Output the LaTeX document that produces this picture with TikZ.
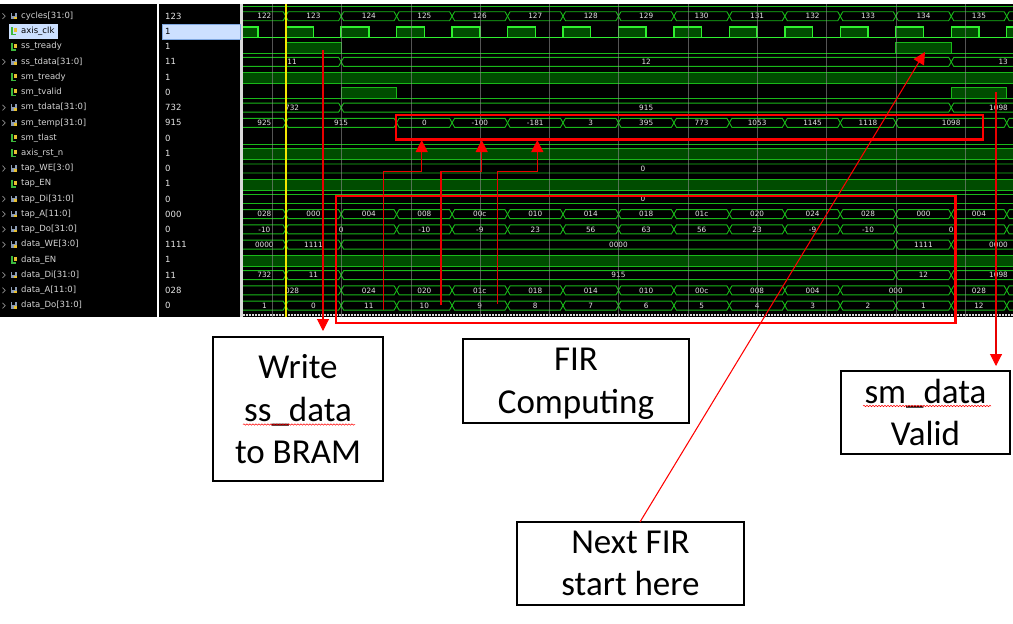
\documentclass[tikz,border=0pt]{standalone}
\usepackage{fontspec}
\setmainfont{Carlito}
\newfontfamily\wvsans{DejaVu Sans}
\usetikzlibrary{arrows.meta,decorations.pathmorphing}
\definecolor{wgreen}{HTML}{19B919}
\definecolor{wclk}{HTML}{2FEF2F}
\definecolor{wfill}{HTML}{004C00}
\definecolor{wgrid}{HTML}{8C8C8C}
\definecolor{wtxt}{HTML}{E6E6E6}
\definecolor{ntxt}{HTML}{D4D4D4}
\definecolor{selbg}{HTML}{CCE0FF}
\definecolor{selbd}{HTML}{7FA8E0}
\definecolor{anred}{HTML}{FF0000}
\definecolor{lnred}{HTML}{E80000}
\definecolor{iconbus}{HTML}{8C9CB4}
\definecolor{iconyel}{HTML}{E8C030}
\definecolor{icongrn}{HTML}{3CB83C}

\newcommand\wvbus[2]{%
  \pgfmathsetmacro\cy{16.2+15.23*#1}%
  \foreach \ka/\kb/\lab in {#2}{%
    \pgfmathsetmacro\xa{285.7+55.46*\ka}%
    \pgfmathsetmacro\xb{285.7+55.46*\kb}%
    \draw[busline] (\xa,\cy) -- ({\xa+2.5},{\cy-4.5}) -- ({\xb-2.5},{\cy-4.5}) -- (\xb,\cy) -- ({\xb-2.5},{\cy+4.5}) -- ({\xa+2.5},{\cy+4.5}) -- cycle;
    \ifx\lab\empty\else
      \ifdim\kb pt>20pt
        \node[wvlab,anchor=east] (wl-#1-\ka) at (1008,\cy) {\lab};
      \else
        \pgfmathsetmacro\xm{(max(\xa,243)+min(\xb,1013))/2}%
        \node[wvlab] (wl-#1-\ka) at (\xm,\cy) {\lab};
      \fi
    \fi
  }%
}
\newcommand\wvbit[3]{%
  \pgfmathsetmacro\cy{16.2+15.23*#1}%
  \foreach \ka/\kb in {#3}{%
    \pgfmathsetmacro\xa{285.7+55.46*\ka}%
    \pgfmathsetmacro\xb{285.7+55.46*\kb}%
    \fill[wfill] (\xa,{\cy-4.5}) rectangle (\xb,{\cy+6.3});
    \draw[#2] (\xa,{\cy+6.3}) -- (\xa,{\cy-4.5}) -- (\xb,{\cy-4.5}) -- (\xb,{\cy+6.3});
  }%
  \draw[#2] (230,{\cy+6.3}) -- (1020,{\cy+6.3});
}

\begin{document}
\begin{tikzpicture}[x=1pt,y=-1pt,
  busline/.style={draw=wgreen,line width=0.9pt,line join=miter},
  bitline/.style={draw=wgreen,line width=0.9pt},
  clkline/.style={draw=wclk,line width=1.4pt},
  wvlab/.style={font=\wvsans\fontsize{7.3}{8}\selectfont,text=wtxt,inner sep=0pt},
  nametxt/.style={font=\wvsans\fontsize{8.5}{10}\selectfont,anchor=west,inner sep=0pt},
  annot/.style={draw=lnred,line width=1.05pt,-{Triangle[length=12pt,width=12pt,color=anred]}},
  hlbox/.style={draw=anred,line width=2.2pt},
  txbox/.style={draw=black,line width=1.6pt,font=\fontsize{35}{42.5}\selectfont,align=center,inner sep=0pt,text depth=0pt},
  gridln/.style={draw=wgrid,line width=0.7pt,opacity=0.6}]
\useasboundingbox (0,0) rectangle (1013,624);
\fill[white] (0,0) rectangle (1013,624);
\fill[black] (0,4) rectangle (1013,316.5);
\fill[white] (157.3,4) rectangle (159,316.5);
\fill[black!15] (239.5,4) rectangle (242.5,316.5);

% selection highlight
\fill[selbg] (9.3,24.3) rectangle (58.3,39);
\draw[selbd,fill=selbg,line width=0.6pt] (162.7,24.3) rectangle (240,39);

% names and values
\foreach \n/\v [count=\i from 0] in {cycles[31:0]/123, axis\_clk/1, ss\_tready/1, ss\_tdata[31:0]/11, sm\_tready/1, sm\_tvalid/0, sm\_tdata[31:0]/732, sm\_temp[31:0]/915, sm\_tlast/0, axis\_rst\_n/1, tap\_WE[3:0]/0, tap\_EN/1, tap\_Di[31:0]/0, tap\_A[11:0]/000, tap\_Do[31:0]/0, data\_WE[3:0]/1111, data\_EN/1, data\_Di[31:0]/11, data\_A[11:0]/028, data\_Do[31:0]/0}{%
  \pgfmathsetmacro\cy{16.2+15.23*\i}
  \ifnum\i=1 \def\tc{black}\def\vc{black}\else\def\tc{ntxt}\def\vc{wtxt}\fi
  \node[nametxt,text=\tc] (name\i) at (21,\cy) {\n};
  \node[nametxt,text=\vc] (val\i) at (165,\cy) {\v};
}
% icons
\foreach \i in {0,3,6,7,10,12,13,14,15,17,18,19}{%
  \pgfmathsetmacro\cy{16.2+15.23*\i}
  \draw[black!45,line width=0.7pt] (2.5,{\cy-2.8}) -- (5.2,\cy) -- (2.5,{\cy+2.8});
  \fill[iconbus] (10.5,{\cy-3.2}) rectangle (16.5,{\cy+3});
  \fill[black] (12.3,{\cy-3.2}) rectangle (14.7,{\cy-0.5});
  \fill[iconyel] (14.3,{\cy+0.5}) rectangle (16.5,{\cy+3});
}
\foreach \i in {1,2,4,5,8,9,11,16}{%
  \pgfmathsetmacro\cy{16.2+15.23*\i}
  \draw[icongrn,line width=1.4pt] (12,{\cy-4}) -- (12,{\cy+3.2}) -- (16,{\cy+3.2});
  \fill[iconyel] (14.3,{\cy-3}) rectangle (16.8,{\cy+1});
}

% waveforms
\begin{scope}
\clip (243,4) rectangle (1013,316.5);
\draw[wgreen,line width=0.9pt] (243,6.5) -- (1013,6.5);
\wvbus{0}{-2/0/122, 0/1/123, 1/2/124, 2/3/125, 3/4/126, 4/5/127, 5/6/128, 6/7/129, 7/8/130, 8/9/131, 9/10/132, 10/11/133, 11/12/134, 12/13/135, 13/99/}
\wvbit{1}{clkline}{-2/-1.5, -1/-0.5, 0/0.5, 1/1.5, 2/2.5, 3/3.5, 4/4.5, 5/5.5, 6/6.5, 7/7.5, 8/8.5, 9/9.5, 10/10.5, 11/11.5, 12/12.5, 13/13.5}
\wvbit{2}{bitline}{0/1, 11/12}
\wvbus{3}{-2/1/11, 1/12/12, 12/99/13}
\wvbit{4}{bitline}{-3/20}
\wvbit{5}{bitline}{1/2, 12/13}
\wvbus{6}{-2/1/732, 1/12/915, 12/99/1098}
\wvbus{7}{-2/0/925, 0/2/915, 2/3/0, 3/4/-100, 4/5/-181, 5/6/3, 6/7/395, 7/8/773, 8/9/1053, 9/10/1145, 10/11/1118, 11/13/1098, 13/99/}
\pgfmathsetmacro\cy{16.2+15.23*8}
\draw[bitline] (230,{\cy+6.3}) -- (1020,{\cy+6.3});
\wvbit{9}{bitline}{-3/20}
\wvbus{10}{-3/99/}
\node[wvlab] (wl-10-x) at (643,{16.2+15.23*10}) {0};
\wvbit{11}{bitline}{-3/20}
\wvbus{12}{-3/99/}
\node[wvlab] (wl-12-x) at (643,{16.2+15.23*12}) {0};
\wvbus{13}{-2/0/028, 0/1/000, 1/2/004, 2/3/008, 3/4/00c, 4/5/010, 5/6/014, 6/7/018, 7/8/01c, 8/9/020, 9/10/024, 10/11/028, 11/12/000, 12/13/004, 13/99/}
\wvbus{14}{-2/0/-10, 0/2/0, 2/3/-10, 3/4/-9, 4/5/23, 5/6/56, 6/7/63, 7/8/56, 8/9/23, 9/10/-9, 10/11/-10, 11/13/0, 13/99/}
\wvbus{15}{-2/0/0000, 0/1/1111, 1/11/0000, 11/12/1111, 12/99/0000}
\wvbit{16}{bitline}{-3/20}
\wvbus{17}{-2/0/732, 0/1/11, 1/11/915, 11/12/12, 12/99/1098}
\wvbus{18}{-2/1/028, 1/2/024, 2/3/020, 3/4/01c, 4/5/018, 5/6/014, 6/7/010, 7/8/00c, 8/9/008, 9/10/004, 10/12/000, 12/13/028, 13/99/}
\wvbus{19}{-2/0/1, 0/1/0, 1/2/11, 2/3/10, 3/4/9, 4/5/8, 5/6/7, 6/7/6, 7/8/5, 8/9/4, 9/10/3, 10/11/2, 11/12/1, 12/13/12, 13/99/}
\draw[white!85!black,line width=1.2pt,dash pattern=on 1.6pt off 1.4pt] (243,315) -- (1013,315);
% time grid
\foreach \k in {0,...,10}{\draw[gridln] ({272.3+69.3*\k},4) -- ({272.3+69.3*\k},316.5);}
% cursor
\draw[yellow!90!olive,line width=1.6pt] (286,4) -- (286,316.5);
\end{scope}

% highlight rectangles
\draw[hlbox] (396,115) rectangle (983,139.5);
\draw[hlbox] (336,196) rectangle (955.5,323);

% annotation boxes
\node[txbox,minimum width=170pt,minimum height=144pt] (wbox) at (298,409) {Write\\ss\_data\\to BRAM};
\node[txbox,minimum width=226pt,minimum height=84pt] (firbox) at (576,381) {FIR\\Computing};
\node[txbox,minimum width=169pt,minimum height=83pt] (smbox) at (925.5,412.5) {sm\_data\\Valid};
\node[txbox,minimum width=227pt,minimum height=83pt] (nfbox) at (630.5,563.5) {Next FIR\\start here};

% spell-check underlines
\draw[anred,line width=0.5pt,decorate,decoration={snake,segment length=3pt,amplitude=0.7pt}] (243,424.5) -- (355,424.5);
\draw[anred,line width=0.5pt,decorate,decoration={snake,segment length=3pt,amplitude=0.7pt}] (863,406) -- (991,406);

% connectors
\coordinate (wr-s) at (323,50);
\coordinate (wr-t) at (323,331);
\draw[annot] (wr-s) -- (wr-t);

\coordinate (e1s) at (383.3,310);
\coordinate (e1m) at (383.3,171.5);
\coordinate (e1t) at (421.7,140);
\draw[annot] (e1s) -- (e1m) -| (e1t);
\coordinate (e2s) at (441,305);
\coordinate (e2m) at (441,171.5);
\coordinate (e2t) at (481.7,140);
\draw[annot] (e2s) -- (e2m) -| (e2t);
\coordinate (e3s) at (497.3,304);
\coordinate (e3m) at (497.3,171.5);
\coordinate (e3t) at (537.3,140);
\draw[annot] (e3s) -- (e3m) -| (e3t);

\coordinate (nf-s) at (640,522);
\coordinate (nf-t) at (925,52);
\draw[annot,draw=anred] (nf-s) -- (nf-t);

\coordinate (sv-s) at (996,92);
\coordinate (sv-t) at (996,366);
\draw[annot] (sv-s) -- (sv-t);
\end{tikzpicture}
\end{document}
